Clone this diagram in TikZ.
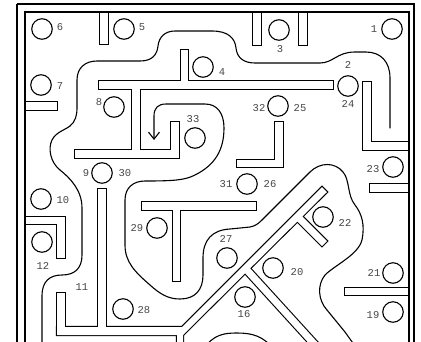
\documentclass[tikz,border=0pt]{standalone}
\usepackage{fontspec}
\setmainfont{Liberation Mono}
\usetikzlibrary{arrows.meta}
\tikzset{
  hole/.style={circle, draw, line width=1.1pt, minimum size=20.5pt, inner sep=0pt},
  lbl/.style={inner sep=0pt, text=black!72, font=\fontsize{10.5}{12}\selectfont},
  mazeline/.style={line width=1.1pt, line cap=round, line join=round},
  frameline/.style={line width=1.2pt},
}
\newcommand\mywalls[1]{%
  \path[#1] (100,12) rectangle (108,44);
  \path[#1] (253,12) rectangle (261,45);
  \path[#1] (299,12) rectangle (307,45);
  \path[#1] (25,102) rectangle (57,110);
  \path[#1] (99,81) rectangle (333,89);
  \path[#1] (181,50) rectangle (188,82);
  \path[#1] (132,88) rectangle (140,151);
  \path[#1] (75,150) rectangle (179,158);
  \path[#1] (171,122) rectangle (179,151);
  \path[#1] (142,202) rectangle (256,210);
  \path[#1] (173,209) rectangle (180,281);
  \path[#1] (98,189) rectangle (106,328);
  \path[#1] (57,293) rectangle (65,328);
  \path[#1] (25,217) rectangle (65,224);
  \path[#1] (57,223) rectangle (65,258);
  \path[#1] (275,122) rectangle (283,167);
  \path[#1] (237,160) rectangle (283,167);
  \path[#1] (363,82) rectangle (371,150);
  \path[#1] (370,142) rectangle (408,150);
  \path[#1] (370,184) rectangle (408,192);
  \path[#1] (345,288) rectangle (408,295);
  \path[#1] (57,327) -- (182,327) -- (322,187) -- (327,192) -- (183,335)
     -- (183,350) -- (177,350) -- (177,335) -- (57,335) -- cycle;
  \path[#1] (295,219) -- (322,246) -- (327,241) -- (300,214) -- cycle;
  \path[#1] (243,271) -- (325,361) -- (330,356) -- (248,266) -- cycle;
}
\begin{document}
\begin{tikzpicture}[x=1pt, y=-1pt]
\useasboundingbox (0,0) rectangle (421,341);
\clip (0,0) rectangle (421,341);
\fill[white] (0,0) rectangle (421,341);

% maze path A
\draw[mazeline] (42,350) -- (42,296)
  .. controls (42,281) and (50,275) .. (62,275)
  .. controls (75,275) and (82,268) .. (82,255)
  -- (82,208)
  .. controls (82,190) and (70,178) .. (60,170)
  .. controls (50,162) and (48,148) .. (52,140)
  .. controls (56,132) and (65,130) .. (70,126)
  .. controls (75,122) and (77,116) .. (77,108)
  -- (77,80)
  .. controls (77,68) and (85,61) .. (97,61)
  -- (140,61)
  .. controls (152,61) and (157,55) .. (158,46)
  .. controls (159,37) and (165,31) .. (175,31)
  -- (212,31)
  .. controls (228,31) and (235,38) .. (236,48)
  .. controls (237,58) and (244,63) .. (255,63)
  -- (320,63)
  .. controls (333,63) and (337,52) .. (355,52)
  -- (366,52)
  .. controls (381,52) and (390,62) .. (390,78)
  -- (390,128);

% maze path B with arrow
\draw[mazeline, {Straight Barb[length=7pt,width=11pt]}-] (154,140) -- (154,116)
  .. controls (154,108) and (158,104) .. (166,104)
  -- (205,104)
  .. controls (217,104) and (224,113) .. (224,128)
  .. controls (224,150) and (215,165) .. (195,175)
  .. controls (185,180) and (175,181) .. (145,181)
  .. controls (133,181) and (125,188) .. (125,200)
  -- (125,245)
  .. controls (125,262) and (135,272) .. (150,285)
  .. controls (160,294) and (168,299) .. (180,299)
  .. controls (195,299) and (203,290) .. (203,275)
  -- (203,258)
  .. controls (203,240) and (212,230) .. (230,229)
  -- (250,227)
  .. controls (255,226) and (258,224) .. (262,220)
  -- (310,172)
  .. controls (320,162) and (335,162) .. (343,172)
  .. controls (350,180) and (347,195) .. (355,205)
  .. controls (362,214) and (365,225) .. (362,240)
  .. controls (358,255) and (335,265) .. (325,275)
  .. controls (317,285) and (318,300) .. (327,310)
  -- (345,332) -- (355,346);

% bottom arch
\draw[mazeline] (203,350) .. controls (213,334) and (225,333) .. (237,333)
  .. controls (252,333) and (264,336) .. (274,350);

% walls (union outlines)
\mywalls{draw, line width=2.2pt}
\mywalls{fill=white}

% frame
\draw[frameline] (17,4) -- (414,4) -- (414,360);
\draw[frameline] (17,360) -- (17,4);
\draw[frameline] (25,360) -- (25,12) -- (409,12) -- (409,360);

% holes
\node[hole] (c6) at (42,29) {};
\node[hole] (c5) at (124,29) {};
\node[hole] (c7) at (41,85) {};
\node[hole] (c8) at (114,107) {};
\node[hole] (c3) at (279,30) {};
\node[hole] (c1) at (392,29) {};
\node[hole] (c2) at (348,86) {};
\node[hole] (c32) at (278,106) {};
\node[hole] (c4) at (203,67) {};
\node[hole] (c33) at (195,138) {};
\node[hole] (c9) at (102,173) {};
\node[hole] (c10) at (41,199) {};
\node[hole] (c12) at (42,242) {};
\node[hole] (c28) at (123,309) {};
\node[hole] (c29) at (157,228) {};
\node[hole] (c31) at (247,184) {};
\node[hole] (c22) at (323,217) {};
\node[hole] (c27) at (227,258) {};
\node[hole] (c20) at (273,268) {};
\node[hole] (c16) at (245,297) {};
\node[hole] (c23) at (393,167) {};
\node[hole] (c21) at (393,273) {};
\node[hole] (c19) at (393,312) {};

% labels
\node[lbl] (l6) at (60,27) {6};
\node[lbl] (l5) at (142,27) {5};
\node[lbl] (l7) at (60,86) {7};
\node[lbl] (l8) at (99,102) {8};
\node[lbl] (l3) at (280,49) {3};
\node[lbl] (l1) at (374,29) {1};
\node[lbl] (l2) at (348,65) {2};
\node[lbl] (l24) at (348,104) {24};
\node[lbl] (l32) at (259,108) {32};
\node[lbl] (l25) at (300,108) {25};
\node[lbl] (l4) at (222,72) {4};
\node[lbl] (l33) at (193,119) {33};
\node[lbl] (l9) at (86,173) {9};
\node[lbl] (l30) at (125,173) {30};
\node[lbl] (l10) at (63,200) {10};
\node[lbl] (l12) at (43,266) {12};
\node[lbl] (l11) at (82,287) {11};
\node[lbl] (l28) at (144,310) {28};
\node[lbl] (l29) at (137,228) {29};
\node[lbl] (l31) at (226,184) {31};
\node[lbl] (l26) at (270,184) {26};
\node[lbl] (l22) at (345,223) {22};
\node[lbl] (l27) at (226,239) {27};
\node[lbl] (l20) at (297,272) {20};
\node[lbl] (l16) at (244,314) {16};
\node[lbl] (l23) at (373,169) {23};
\node[lbl] (l21) at (374,273) {21};
\node[lbl] (l19) at (373,315) {19};
\end{tikzpicture}
\end{document}
